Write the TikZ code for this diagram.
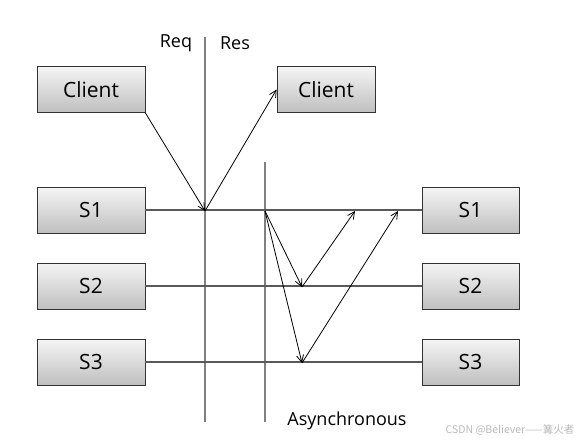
\documentclass[tikz,border=0pt]{standalone}
\usepackage{fontspec}
\setmainfont{Open Sans}
\newfontfamily\cjk{Noto Sans CJK SC}
\usetikzlibrary{arrows.meta}

\tikzset{
  box/.style={draw=black!80, line width=0.8pt, top color=gray!8, bottom color=gray!50,
    minimum width=108pt, minimum height=46pt, inner sep=0pt,
    font=\fontsize{21}{25}\selectfont},
  lbl/.style={font=\fontsize{18}{21}\selectfont},
  axis/.style={gray, line width=2pt},
  wire/.style={black!65, line width=1.5pt},
  msg/.style={-{Straight Barb[length=7pt,width=7pt]}, line width=0.8pt},
}

\begin{document}
\begin{tikzpicture}[x=1pt,y=-1pt]
\useasboundingbox (0,0) rectangle (581,442);

% time lines
\draw[axis] (205,37) -- (205,422);
\draw[axis] (265,162) -- (265,422);

% boxes
\node[box] (C0) at (91,89.5) {Client};
\node[box, minimum width=98pt] (C1) at (326,89.5) {Client};

\node[box] (A1) at (91,210) {S1};
\node[box] (A2) at (91,286) {S2};
\node[box] (A3) at (91,362) {S3};

\node[box, minimum width=97pt] (B1) at (470.5,210) {S1};
\node[box, minimum width=97pt] (B2) at (470.5,286) {S2};
\node[box, minimum width=97pt] (B3) at (470.5,362) {S3};

% server lines
\draw[wire] (A1.east) -- (B1.west);
\draw[wire] (A2.east) -- (B2.west);
\draw[wire] (A3.east) -- (B3.west);

% labels
\node[lbl] (req) at (176,43) {Req};
\node[lbl] (res) at (235,43) {Res};
\node[lbl] (asy) at (347,421) {Asynchronous};

% points
\coordinate (q) at (205,211);
\coordinate (a) at (265,211);
\coordinate (p2) at (302,287);
\coordinate (p3) at (302,363);
\coordinate (r2) at (355,211);
\coordinate (r3) at (398,211);

% messages
\draw[msg] (C0.south east) -- (q);
\draw[msg] (q) -- (C1.west);

\draw[msg] (a) -- (p2);
\draw[msg] (p2) -- (r2);
\draw[msg] (a) -- (p3);
\draw[msg] (p3) -- (r3);

\node[text=gray!55, font=\cjk\fontsize{10.5}{12}\selectfont] (mark) at (510,430) {CSDN @Believer——篝火者};
\end{tikzpicture}
\end{document}
